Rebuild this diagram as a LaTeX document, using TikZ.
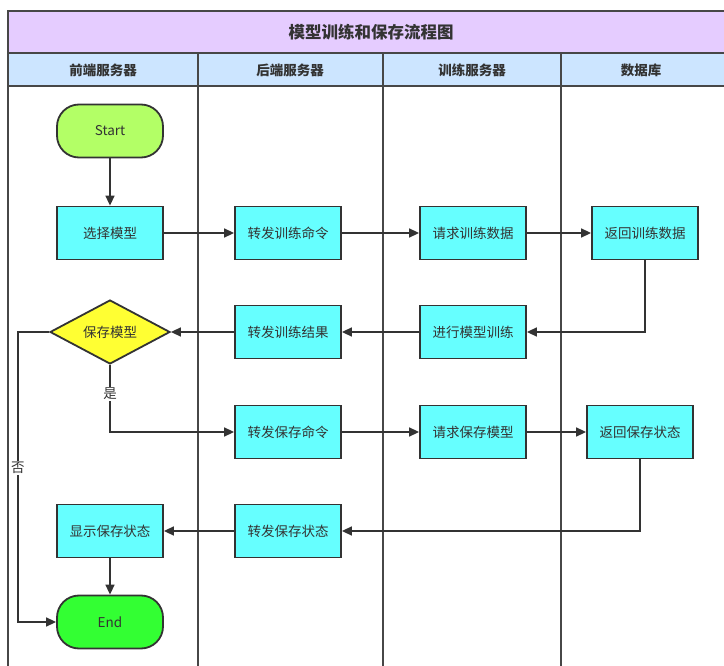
\documentclass[tikz,border=0pt]{standalone}
\usepackage{fontspec}
\setmainfont{Noto Sans CJK SC}
\usetikzlibrary{shapes.geometric,arrows.meta}
\definecolor{ink}{HTML}{333333}
\definecolor{titlefill}{HTML}{E5CCFF}
\definecolor{headfill}{HTML}{CCE5FF}
\definecolor{boxfill}{HTML}{66FFFF}
\definecolor{startfill}{HTML}{B3FF66}
\definecolor{endfill}{HTML}{33FF33}
\definecolor{decfill}{HTML}{FFFF33}
\tikzset{
  lane/.style={draw=ink!90, line width=1.6pt},
  procbox/.style={draw=ink, line width=1.8pt, fill=boxfill, minimum width=106pt,
    minimum height=53pt, inner sep=0pt, text=ink, font=\fontsize{13.5}{15}\selectfont},
  termbox/.style={procbox, rounded corners=22pt},
  decbox/.style={draw=ink, line width=1.8pt, fill=decfill, diamond, aspect=1.875,
    minimum width=120pt, minimum height=64pt, inner sep=0pt, text=ink,
    font=\fontsize{13.5}{15}\selectfont},
  flow/.style={draw=ink, line width=1.5pt, -{Triangle[length=10pt,width=9pt]}},
  edgelabel/.style={fill=white, inner sep=1.5pt, text=ink, font=\fontsize{13.5}{15}\selectfont},
  headtext/.style={text=ink, font=\fontsize{13.5}{15}\selectfont\bfseries},
}
\begin{document}
\begin{tikzpicture}[x=1pt,y=-1pt]
\useasboundingbox (0,0) rectangle (724,666);
\begin{scope}
\clip (0,0) rectangle (724,666);
% swimlane frame
\fill[titlefill] (8,11) rectangle (760,53);
\fill[headfill] (8,53) rectangle (760,86);
\draw[lane] (8,700) -- (8,11) -- (760,11);
\draw[lane] (8,53) -- (760,53);
\draw[lane] (8,86) -- (760,86);
\foreach \lx in {198,383,561} \draw[lane] (\lx,53) -- (\lx,700);
\end{scope}
\node[text=ink, font=\fontsize{16.5}{18}\selectfont\bfseries] (title) at (371,32) {模型训练和保存流程图};
\node[headtext] (h1) at (103,70) {前端服务器};
\node[headtext] (h2) at (290,70) {后端服务器};
\node[headtext] (h3) at (472,70) {训练服务器};
\node[headtext] (h4) at (641,70) {数据库};

% process steps
\node[termbox, fill=startfill] (start) at (110,131) {Start};
\node[procbox] (select) at (110,233) {选择模型};
\node[procbox] (fwdtrain) at (288,233) {转发训练命令};
\node[procbox] (reqdata) at (473,233) {请求训练数据};
\node[procbox] (retdata) at (645,233) {返回训练数据};
\node[decbox] (save) at (110,332) {保存模型};
\node[procbox] (fwdres) at (288,332) {转发训练结果};
\node[procbox] (train) at (473,332) {进行模型训练};
\node[procbox] (fwdsave) at (288,432) {转发保存命令};
\node[procbox] (reqsave) at (473,432) {请求保存模型};
\node[procbox] (retstat) at (640,432) {返回保存状态};
\node[procbox] (show) at (110,531) {显示保存状态};
\node[procbox] (fwdstat) at (288,531) {转发保存状态};
\node[termbox, fill=endfill] (end) at (110,622) {End};

% connectors
\draw[flow] (start) -- (select);
\draw[flow] (select) -- (fwdtrain);
\draw[flow] (fwdtrain) -- (reqdata);
\draw[flow] (reqdata) -- (retdata);
\draw[flow] (retdata.south) |- (train.east);
\draw[flow] (train) -- (fwdres);
\draw[flow] (fwdres) -- (save.east);
\draw[flow] (save.south) |- (fwdsave.west);
\node[edgelabel] (yes) at (110,394) {是};
\draw[flow] (fwdsave) -- (reqsave);
\draw[flow] (reqsave) -- (retstat);
\draw[flow] (retstat.south) |- (fwdstat.east);
\draw[flow] (fwdstat) -- (show);
\draw[flow] (show) -- (end);
\coordinate (noturn) at (18,332);
\draw[flow] (save.west) -- (noturn) |- (end.west);
\node[edgelabel] (no) at (18,468) {否};
\end{tikzpicture}
\end{document}
